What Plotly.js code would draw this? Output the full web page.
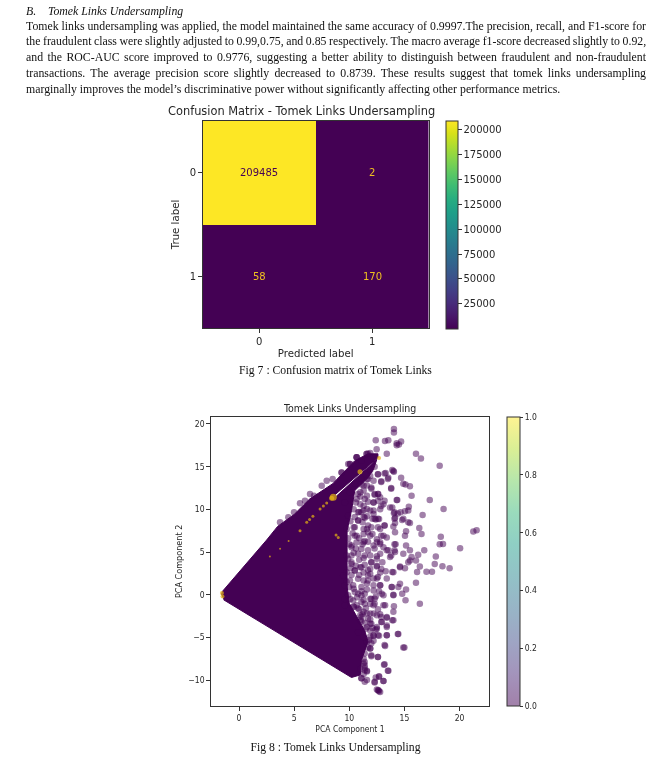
<!DOCTYPE html>
<html><head><meta charset="utf-8">
<script src="https://cdn.plot.ly/plotly-3.0.1.min.js"></script>
<style>
html,body{margin:0;padding:0;background:#fff;width:664px;height:771px;overflow:hidden}
body{filter:blur(0.35px)}
#chart{position:absolute;left:0;top:0;width:664px;height:771px}
.t{position:absolute;font-family:"Liberation Serif",serif;color:#111;font-size:11.8px}
#para{left:26px;top:18.5px;width:620px;line-height:15.8px}
#para div{text-align:justify;text-align-last:justify;white-space:nowrap}
#para div:last-child{text-align-last:left}
#head{left:26px;top:4px;font-style:italic;white-space:pre}
.cap{left:0;width:671px;text-align:center;font-size:11.7px}
</style></head><body>
<div id="chart"></div>
<div class="t" id="head">B.    Tomek Links Undersampling</div>
<div class="t" id="para">
<div>Tomek links undersampling was applied, the model maintained the same accuracy of 0.9997.The precision, recall, and F1-score for</div>
<div style="word-spacing:-0.4px">the fraudulent class were slightly adjusted to 0.99,0.75, and 0.85 respectively. The macro average f1-score decreased slightly to 0.92,</div>
<div>and the ROC-AUC score improved to 0.9776, suggesting a better ability to distinguish between fraudulent and non-fraudulent</div>
<div>transactions. The average precision score slightly decreased to 0.8739. These results suggest that tomek links undersampling</div>
<div>marginally improves the model’s discriminative power without significantly affecting other performance metrics.</div>
</div>
<div class="t cap" style="top:364px">Fig 7 : Confusion matrix of Tomek Links</div>
<div class="t cap" style="top:741px">Fig 8 : Tomek Links Undersampling</div>
<script>
// Confusion matrix
const cmLabels=[0,1];
const cmValues=[[209485,2],[58,170]];
const cmTicks=[25000,50000,75000,100000,125000,150000,175000,200000];
// Solid mass of the PCA scatter, read as an outline
const massX=[-1.6,-1.5,2.5,3.5,5,6.4,8.5,9.6,10.5,11.7,12.6,12.6,8.7,8.8,12.5,12.2,11.7,10.5,10.2,9.8,9.8,9.8,10,10.5,11.4,11.7,11.1,11,10.2,-1.4];
const massY=[0,0.4,6.4,8,9.4,11.2,13,14.5,15.7,16.5,16.5,16.05,11.7,11.5,15.85,14.7,13.7,12.2,9.85,7.5,5,1,-1,-2.2,-4.2,-5.5,-7.7,-9.4,-9.7,-0.6];
// Individual class 0 points
const pcaX=[14.05,14.05,12.4,13.24,13.54,14.3,14.5,14.7,14.3,16.05,16.5,18.2,13.9,14.05,12.6,13.3,13.54,14.7,12.9,13.8,15.1,15.5,15.65,17.3,18.55,14.35,13.9,15.4,14.65,15.05,15.35,14.05,14.15,16.65,14.8,15.35,15.5,12.4,12.7,13.2,14,16.35,16.55,21.25,21.55,14.15,15.15,15.05,18.3,18.5,18.2,20.05,14.2,15.15,16.8,16.25,15.5,14.9,14.15,17.85,17.75,18.45,19.1,15.65,16.05,15.35,16.4,15.5,14.6,15.05,13.9,13.3,12.5,17,17.5,16.15,
16.05,15.15,14.8,14.45,13.85,14,12.8,15.1,16.4,14.05,14,13.25,13.9,13.4,13.4,12.8,12.95,14.45,13.4,12.7,12.2,13.25,15,12,12.6,13.15,13.55,12.7,12.4,13.1,12.3,11.4,12.65,12.8,12.5,11.6,11.1,11.4,
3.72,4.47,4.99,5.53,5.98,6.44,6.8,7.5,7.95,8.49,9.3,10.06,10.67,11.1,11.57,
12.48,11.57,11.9,10.67,10.06,9.3,11.9,12.2,11.6,11.3,12,12.3,12.8,11.6,11,12.2,12.63,13.1,11.9,11.3,10.67,10.4,12.8,12.2,11.4,11.1,10.8,11.6,12,12.8,13.1,12.5,12.8,11.9,11.3,12.2,13.1,13.54,13.7,12.8,12,12.5,11.4,10.8,10.2,11.1,11.7,10.5,9.76,10.2,10.67,10.4,9.76,9.9,9.6,10.06,10.5,11.1,
11.9,12.5,11.6,12.2,12.95,12,11.1,10.4,9.76,9.6,10.67,11.4,12.3,11.9,11.3,11,12,12.5,11.6,10.8,11.6,11.9,11.3,11.3,11.4,
9.9,10.66,11.7,13.4,12.6,13.2,14,13.5,12.9,14.9,13.8,11.6,11.7,12,11.3,12.6,10.8,11.4,12.2,12.6,13.2,12.9,13.7,14.3,11,11.6,12.2,10.8,10.8,12.3,12.6,14.1,14.4,14.1,14.15,14.9,13.2,12.6,11.3,11.7,10.5,11.3,
10.5,11.3,11.7,11.4,10.66,10.2,12.5,12.8,13.4,14.1,11.7,11.1,13.4,14.1,13.8,12.5,10.2,9.9,10.2,12,12.5,11.9,11,10.5,9.76,14.6,14,12.9,13.4,12.6,11.7,11.3,11.7,10.8,10.06,9.45,9.6,10.35,11.1,12.2,12.8,13.85,14.6,10.8,11.4,11.9,12.3,13.1,14,9.9,10.35,11.1,13.1,12.2,9.6,
11,11.7,12.5,12.9,13.4,14,12.9,13.4,12.5,11.9,12.2,12.6,13.4,14.4,13.2,14.9,12,12.6,13.2,13.5,11.3,11.4,11.6,11.1,11.6,12.7,12.3,13.1,12.6,12.7,11.9,
10.1,10.3,9.9,10,10.6,10.9,11.2,10.4,10.9,11.3,10.1,10.6,11.4,10.2,10.9,11.3,10,10.5,11.1,11.6,10.1,10.7,11.3,10.4,10.9,11.5,11.1,11.4,11.9,12.2,12.6,11.9,12.4,12.7,12.2,12.8,13,11.9,12.3,11.7,12.1,12.9,10.5,10.9,11.2,11.6,12.1,10.6,11,11.3,11.7,12.3,11.1,11.5,11.9,12.3,
11.7,11.8,11.4,11.3,11,11.4,12,12.4,12.1,
11.1,11.5,11.9,12.2,11.9,11.6,11.2,10.8,10.4];
const pcaY=[19.4,19,18.1,18,18.1,17.75,17.6,17.95,17.5,16.5,15.96,15.1,14.6,14.4,14.1,14.25,13.7,13.7,13.3,12.5,12.9,12.7,11.6,11.1,10.05,11.1,10.2,10.3,9.65,9.77,9.85,9.55,9,9.34,8.75,8.48,8.4,8.8,8.87,8.1,8,7.8,7.1,7.4,7.55,7.3,7.43,6.9,6.8,5.95,5.9,5.45,5.9,5.75,5.2,4.67,5.2,4.8,5,4.47,3.6,3.34,3.1,4.4,4,3.8,3.3,4,3.3,3.1,2.65,2.75,3.3,2.7,2.7,2.65,
1.4,0.6,0.1,0.9,0.9,0,1.1,-0.66,-1.05,-1.35,-2,-1.25,-3,-2.7,-3.8,-2.3,-3.2,-4.6,-4.75,-4.8,-4.8,-6,-6.2,-7.2,-7.3,-8.2,-8.9,-9.6,-9.7,-10.1,-10.3,-10.2,-11.2,-11.4,-11.1,-9,-9.8,-8.85,
8.48,9.07,9.65,10.7,11,11.8,11.6,12.77,13.35,13.55,14.3,15.3,16.1,15.7,16.5,
17.05,16.47,16.6,16.1,15.3,14.3,13.9,13.35,13.55,12.8,12.57,11.8,11.4,11.6,12,10.8,11.8,10.6,9.85,10.4,11.2,10,10,9.45,9,9.65,8.7,7.7,7.9,7.7,6.9,6.5,6.15,6.9,6.15,5.75,5.56,5.2,4.4,4.8,3.8,4.2,4.6,4.8,3.8,3.2,2.85,2.85,4.6,5.75,6.9,7.9,7.7,9.25,10.8,12,13,13.55,
2.45,1.9,1.3,0.5,0.1,-0.5,-0.1,0.7,1.5,-0.5,-1.25,-1.05,-1.05,-2.2,-2,-3,-3.4,-4,-3.8,-4.4,-5.5,-6.3,-5,-8.05,-8.6,
15.3,16.1,16.5,16.5,14.1,14.2,14.5,13.55,13.2,13,12.4,12.8,13.55,12.4,12.2,11.8,11.8,11.2,10.8,11,11,10.4,10.2,11.1,10.6,10.05,9.85,9.65,8.7,8.9,8.9,9.65,9.5,8.9,8.4,8.9,8.1,7.9,9.1,8.1,7.9,7.7,
6.9,7.1,7.3,6.3,6.15,5.56,6.15,5.95,6.7,5.9,5.2,5.35,5.2,5.2,4.6,4.5,4.6,4.2,3.6,3.8,3.4,3.03,3.2,2.8,2.64,3.2,2.64,3,1.9,2.06,2.25,1.67,1.67,1.87,1.67,2.25,1.1,1.1,0.9,1.1,1.1,0.9,1.28,0.1,0.1,-0.47,-0.47,-0.08,-0.08,-0.08,-0.67,-0.86,-1.25,-1.25,-1.25,
-2.4,-2.8,-2.4,-2.6,-2.6,-3,-3.2,-3.6,-3.8,-4.2,-4.76,-4.76,-4.76,-4.6,-5.9,-6.2,-7.1,-7.3,-8.15,-8.9,-7.5,-8.3,-8.9,-9.8,-10,-9.55,-10.2,-10.1,-11.2,-11.3,-6.3,
8.6,7.2,6.6,5.9,5.4,6.6,5.9,4.9,4.1,4.3,3.1,3.4,3.5,2.3,2.3,2.6,0.9,0.3,0.4,0.6,-0.5,-0.3,-0.6,-1.4,-1.7,-1.6,-2.6,-3.3,-3.4,-2.2,-1.7,-1.1,-0.2,0.4,1.9,2.6,3.8,4.6,5.4,6.2,7.1,6.9,9.1,9.7,8.5,9.2,8.9,10.8,11.5,9.9,10.9,11.7,12.9,14.1,14.6,15,
-6.2,-5.3,-6.9,-9.3,-8.7,-7.9,-5.7,-4.1,-3.9,
-3.1,-4,-4.9,-5.4,-2.9,-2.2,-2.3,-1.6,-1.4];
const pcaClass0=pcaX.map(()=>0);
// Class 1 points
const goldX=[-1.55,-1.5,2.8,3.72,4.5,5.53,6.14,6.4,6.7,7.35,7.65,7.95,8.4,8.55,8.8,9,10.97,12.7];
const goldY=[0.2,-0.2,4.47,5.37,6.3,7.5,8.5,8.8,9.2,10.04,10.4,10.74,11.3,11.4,7,6.7,14.4,16];
const goldSize=[4,4,2,2,2,3,3,3,3,3,3,3,5,7,3,3,5,4];
const pcaColorbarTicks=[0,0.2,0.4,0.6,0.8,1];
const viridisFaded=[[0,'rgba(68,1,84,0.5)'],[0.11,'rgba(72,40,120,0.5)'],[0.22,'rgba(62,74,137,0.5)'],[0.33,'rgba(49,104,142,0.5)'],[0.44,'rgba(38,130,142,0.5)'],[0.56,'rgba(31,158,137,0.5)'],[0.67,'rgba(53,183,121,0.5)'],[0.78,'rgba(110,206,88,0.5)'],[0.89,'rgba(181,222,43,0.5)'],[1,'rgba(253,231,37,0.5)']];

const W=664,H=771,fx=p=>p/W,fy=p=>1-p/H;
const ink='#262626';
const tf={family:'DejaVu Sans',size:10,color:ink};
const tf2={family:'DejaVu Sans Condensed, DejaVu Sans',size:8.5,color:ink};
const labelFont={family:'DejaVu Sans',size:10.2,color:ink};
const axis=(o)=>Object.assign({showgrid:false,zeroline:false,showline:true,mirror:true,linecolor:'#333',linewidth:1,ticks:'outside',ticklen:3.5,tickcolor:'#333',tickwidth:1},o);

const traces=[
{type:'heatmap',x:cmLabels,y:cmLabels,z:cmValues,colorscale:'Viridis',zmin:2,zmax:209485,xaxis:'x',yaxis:'y',hoverinfo:'z',
 colorbar:{x:fx(446),xanchor:'left',xpad:0,ypad:0,y:fy(328.5),yanchor:'bottom',lenmode:'pixels',len:208,thicknessmode:'pixels',thickness:12,outlinewidth:1,outlinecolor:'#333',ticks:'outside',ticklen:3.5,tickcolor:'#333',tickvals:cmTicks,ticktext:cmTicks.map(String),tickfont:tf}},
{type:'scatter',mode:'lines',x:massX,y:massY,fill:'toself',fillcolor:'#440154',line:{color:'#440154',width:1},xaxis:'x2',yaxis:'y2',hoverinfo:'skip',showlegend:false},
{type:'scatter',mode:'markers',x:pcaX,y:pcaY,xaxis:'x2',yaxis:'y2',showlegend:false,
 marker:{size:6.5,color:pcaClass0,cmin:0,cmax:1,colorscale:viridisFaded,line:{width:0},showscale:true,
 colorbar:{x:fx(507.5),xanchor:'left',xpad:0,ypad:0,y:fy(706),yanchor:'bottom',lenmode:'pixels',len:289.3,thicknessmode:'pixels',thickness:12.5,outlinewidth:1,outlinecolor:'#333',ticks:'outside',ticklen:3,tickcolor:'#333',tickvals:pcaColorbarTicks,ticktext:['0.0','0.2','0.4','0.6','0.8','1.0'],tickfont:tf2}}},
{type:'scatter',mode:'markers',x:goldX,y:goldY,xaxis:'x2',yaxis:'y2',showlegend:false,marker:{size:goldSize,color:'#e6b412',line:{width:0}}}
];

const layout={width:W,height:H,margin:{l:0,r:0,t:0,b:0},paper_bgcolor:'#fff',plot_bgcolor:'#fff',showlegend:false,font:tf,
xaxis:axis({domain:[fx(202.7),fx(428.7)],range:[-0.5,1.5],tickvals:cmLabels,ticktext:['0','1'],tickfont:tf,title:{text:'Predicted label',font:labelFont,standoff:4}}),
yaxis:axis({domain:[fy(328.3),fy(120.7)],range:[1.5,-0.5],tickvals:cmLabels,ticktext:['0','1'],tickfont:tf,title:{text:'True label',font:labelFont,standoff:8}}),
xaxis2:axis({anchor:'y2',domain:[fx(210.7),fx(489.3)],range:[-2.57,22.7],tickvals:[0,5,10,15,20],tickfont:tf2,title:{text:'PCA Component 1',font:tf2,standoff:4}}),
yaxis2:axis({anchor:'x2',domain:[fy(706),fy(416.7)],range:[-13.04,20.85],tickvals:[-10,-5,0,5,10,15,20],tickfont:tf2,title:{text:'PCA Component 2',font:{family:'DejaVu Sans Condensed, DejaVu Sans',size:9,color:ink},standoff:4}}),
annotations:[
{xref:'paper',yref:'paper',x:fx(301),y:fy(111),yanchor:'middle',text:'Confusion Matrix - Tomek Links Undersampling',showarrow:false,font:{family:'DejaVu Sans',size:11.4,color:ink}},
{xref:'paper',yref:'paper',x:fx(349.5),y:fy(407.5),yanchor:'middle',text:'Tomek Links Undersampling',showarrow:false,font:{family:'DejaVu Sans Condensed, DejaVu Sans',size:10.5,color:ink}}
]};
cmValues.forEach((row,r)=>row.forEach((v,c)=>layout.annotations.push({xref:'x',yref:'y',x:cmLabels[c],y:cmLabels[r],text:String(v),showarrow:false,font:{family:'DejaVu Sans',size:10,color:v>100000?'#440154':'#f0c020'}})));
Plotly.newPlot('chart',traces,layout,{displayModeBar:false,staticPlot:true});
</script>
</body></html>
